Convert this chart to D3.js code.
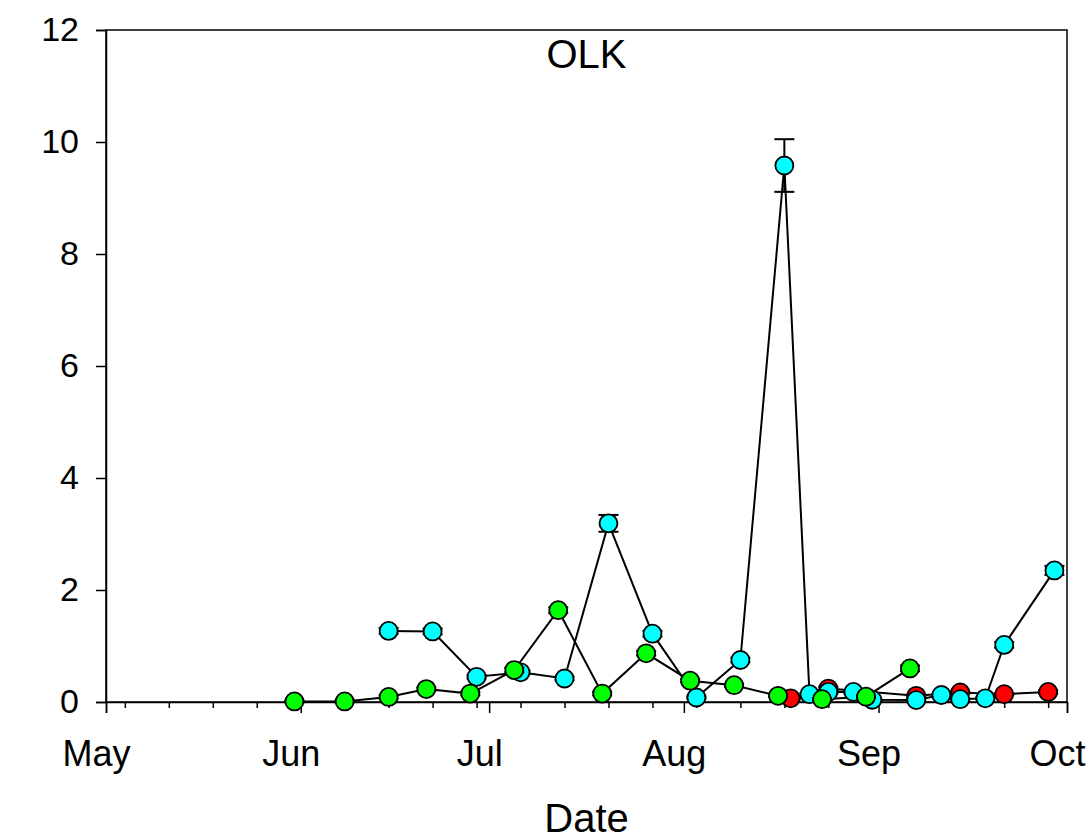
<!DOCTYPE html>
<html>
<head>
<meta charset="utf-8">
<script src="https://cdn.jsdelivr.net/npm/d3@7"></script>
<style>
  html, body { margin: 0; padding: 0; background: #fff; }
  svg { display: block; font-family: Arial, "Liberation Sans", sans-serif; }
</style>
</head>
<body>
<div id="chart"></div>
<script>
// OLK sampling series (date, value, error)
const greenDates = ['2009-05-31', '2009-06-08', '2009-06-15', '2009-06-21', '2009-06-28', '2009-07-05',
  '2009-07-12', '2009-07-19', '2009-07-26', '2009-08-02', '2009-08-09', '2009-08-16', '2009-08-23',
  '2009-08-30', '2009-09-06'];
const greenValues = [0.01, 0.01, 0.09, 0.23, 0.15, 0.57, 1.64, 0.15, 0.87, 0.38, 0.30, 0.11, 0.05, 0.095, 0.60];
const greenErrors = [0.02, 0.02, 0.03, 0.03, 0.03, 0.04, 0.05, 0.03, 0.04, 0.03, 0.03, 0.02, 0.02, 0.02, 0.05];

const cyanDates = ['2009-06-15', '2009-06-22', '2009-06-29', '2009-07-06', '2009-07-13', '2009-07-20',
  '2009-07-27', '2009-08-03', '2009-08-10', '2009-08-17', '2009-08-21', '2009-08-24', '2009-08-28',
  '2009-08-31', '2009-09-07', '2009-09-11', '2009-09-14', '2009-09-18', '2009-09-21', '2009-09-29'];
const cyanValues = [1.27, 1.26, 0.45, 0.53, 0.42, 3.19, 1.22, 0.08, 0.75, 9.58, 0.14, 0.18, 0.18,
  0.04, 0.035, 0.125, 0.05, 0.065, 1.02, 2.35];
const cyanErrors = [0.05, 0.05, 0.03, 0.03, 0.03, 0.15, 0.05, 0.02, 0.04, 0.47, 0.02, 0.03, 0.03,
  0.02, 0.02, 0.02, 0.02, 0.02, 0.05, 0.08];

const redDates = ['2009-08-18', '2009-08-24', '2009-09-07', '2009-09-14', '2009-09-21', '2009-09-28'];
const redValues = [0.065, 0.24, 0.11, 0.17, 0.14, 0.18];
const redErrors = [0.02, 0.03, 0.02, 0.02, 0.02, 0.03];

const yTicks = [0, 2, 4, 6, 8, 10, 12];
const monthTicks = ['2009-05-01', '2009-06-01', '2009-07-01', '2009-08-01', '2009-09-01', '2009-10-01'];

const width = 1086;
const height = 835;
const margin = { top: 30, right: 19, bottom: 133, left: 106 };
const innerWidth = width - margin.left - margin.right;
const innerHeight = height - margin.top - margin.bottom;

const parse = d3.timeParse('%Y-%m-%d');

function buildSeries(dates, values, errors, color) {
  return dates.map((d, i) => ({ date: parse(d), value: values[i], err: errors[i], color }));
}

// draw order: red under cyan under green
const series = [
  buildSeries(redDates, redValues, redErrors, '#ff0000'),
  buildSeries(cyanDates, cyanValues, cyanErrors, '#00ffff'),
  buildSeries(greenDates, greenValues, greenErrors, '#00ff00')
];

const svg = d3.select('#chart')
  .append('svg')
  .attr('width', width)
  .attr('height', height);

const g = svg.append('g')
  .attr('transform', `translate(${margin.left}, ${margin.top})`);

const x = d3.scaleTime()
  .domain([parse(monthTicks[0]), parse(monthTicks[monthTicks.length - 1])])
  .range([0, innerWidth]);

const y = d3.scaleLinear()
  .domain([0, 12])
  .range([innerHeight, 0]);

// frame (top and right)
g.append('rect')
  .attr('x', 0)
  .attr('y', 0)
  .attr('width', innerWidth)
  .attr('height', innerHeight)
  .attr('fill', 'none')
  .attr('stroke', '#000')
  .attr('stroke-width', 1.5);

// minor weekly ticks
const xMinor = g.append('g')
  .attr('transform', `translate(0, ${innerHeight})`)
  .call(d3.axisBottom(x).ticks(d3.timeMonday.every(1)).tickSize(6).tickFormat(''));
xMinor.select('.domain').remove();
xMinor.selectAll('text').remove();
xMinor.selectAll('line').attr('stroke-width', 1.5);

// major month ticks and labels
const xAxis = g.append('g')
  .attr('transform', `translate(0, ${innerHeight})`)
  .call(d3.axisBottom(x)
    .tickValues(monthTicks.map(parse))
    .tickSize(11)
    .tickPadding(27)
    .tickFormat(d3.timeFormat('%b')));
xAxis.select('.domain').attr('stroke-width', 1.5);
xAxis.selectAll('line').attr('stroke-width', 1.5);
xAxis.selectAll('text')
  .attr('dx', -10)
  .style('font-size', '36px')
  .style('font-family', 'Arial, "Liberation Sans", sans-serif')
  .style('fill', '#000');

const yAxis = g.append('g')
  .call(d3.axisLeft(y)
    .tickValues(yTicks)
    .tickSize(10)
    .tickPadding(17)
    .tickFormat(d3.format('d')));
yAxis.select('.domain').attr('stroke-width', 1.5);
yAxis.selectAll('line').attr('stroke-width', 1.5);
yAxis.selectAll('text')
  .style('font-size', '34px')
  .style('font-family', 'Arial, "Liberation Sans", sans-serif')
  .style('fill', '#000');

const line = d3.line()
  .x(d => x(d.date))
  .y(d => y(d.value));

// connecting lines first, then error bars and markers
series.forEach(data => {
  g.append('path')
    .datum(data)
    .attr('d', line)
    .attr('fill', 'none')
    .attr('stroke', '#000')
    .attr('stroke-width', 2);
});

const capHalf = 10;
series.forEach(data => {
  const pts = g.append('g').selectAll('g')
    .data(data)
    .enter()
    .append('g');

  pts.append('line')
    .attr('x1', d => x(d.date))
    .attr('x2', d => x(d.date))
    .attr('y1', d => y(d.value + d.err))
    .attr('y2', d => y(Math.max(0, d.value - d.err)))
    .attr('stroke', '#000')
    .attr('stroke-width', 2);

  [1, -1].forEach(sign => {
    pts.append('line')
      .attr('x1', d => x(d.date) - capHalf)
      .attr('x2', d => x(d.date) + capHalf)
      .attr('y1', d => y(d.value + sign * d.err))
      .attr('y2', d => y(d.value + sign * d.err))
      .attr('stroke', '#000')
      .attr('stroke-width', 2);
  });

  pts.append('circle')
    .attr('cx', d => x(d.date))
    .attr('cy', d => y(d.value))
    .attr('r', 9)
    .attr('fill', d => d.color)
    .attr('stroke', '#000')
    .attr('stroke-width', 1.8);
});

// title and axis label
svg.append('text')
  .attr('x', margin.left + innerWidth / 2)
  .attr('y', 68)
  .attr('text-anchor', 'middle')
  .style('font-size', '40px')
  .text('OLK');

svg.append('text')
  .attr('x', margin.left + innerWidth / 2)
  .attr('y', 832)
  .attr('text-anchor', 'middle')
  .style('font-size', '40px')
  .text('Date');
</script>
</body>
</html>
